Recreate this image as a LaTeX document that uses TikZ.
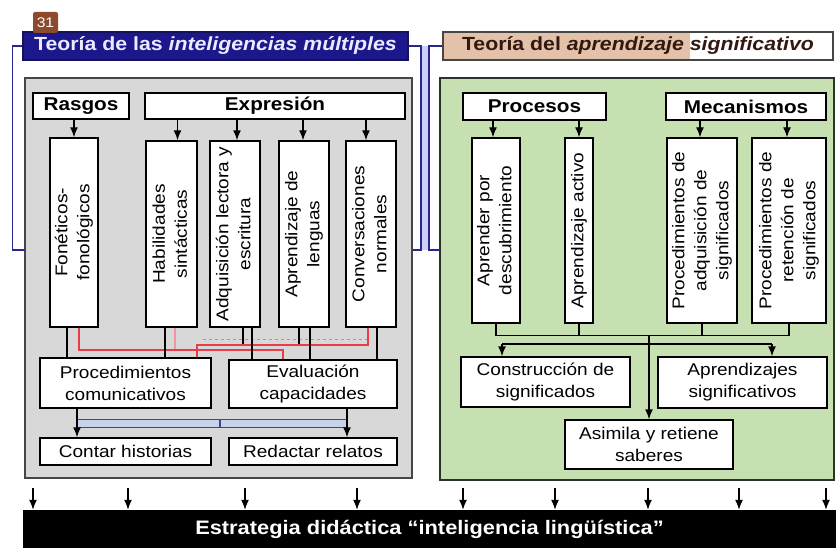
\documentclass[tikz,border=0pt]{standalone}
\usepackage{fontspec}
\setmainfont[FakeStretch=1.12]{Liberation Sans}
\usetikzlibrary{arrows.meta}
\definecolor{navy}{RGB}{28,24,140}
\definecolor{navyedge}{RGB}{20,18,90}
\definecolor{titletext}{RGB}{235,235,255}
\definecolor{peach}{RGB}{228,194,170}
\definecolor{brownt}{RGB}{50,25,15}
\definecolor{grayfill}{RGB}{216,216,216}
\definecolor{grayedge}{RGB}{70,70,70}
\definecolor{greenfill}{RGB}{198,224,178}
\definecolor{greenedge}{RGB}{40,52,40}
\definecolor{badgec}{RGB}{140,75,45}
\definecolor{brk}{RGB}{40,40,140}
\definecolor{lav}{RGB}{205,205,245}
\definecolor{redl}{RGB}{232,60,75}
\definecolor{pinkl}{RGB}{240,150,160}
\definecolor{grnl}{RGB}{110,190,110}
\definecolor{bluel}{RGB}{60,70,140}
\definecolor{bluefill}{RGB}{200,210,235}
\newcommand{\fsn}{\fontsize{17}{22}\selectfont}
\newcommand{\fsh}{\fontsize{18.5}{22}\selectfont\bfseries}
\newcommand{\fst}{\fontsize{19}{22}\selectfont\bfseries}
\newcommand{\fsb}{\fontsize{19.5}{22}\selectfont\bfseries}
\newcommand{\vt}[1]{\rotatebox{90}{\begin{tabular}{@{}c@{}}#1\end{tabular}}}
\begin{document}
\begin{tikzpicture}[x=1pt,y=-1pt,
  box/.style={draw=black, line width=1.4pt, fill=white, inner sep=1pt, align=center, font=\fsn},
  hbox/.style={box, font=\fsh},
  panel/.style={line width=2.4pt, inner sep=0},
  arr/.style={-{Latex[length=10pt,width=8pt]}, line width=1.4pt},
  ln/.style={line width=1.3pt},
  redline/.style={line width=1.6pt, draw=redl},
  brkline/.style={line width=1.4pt, draw=brk},
  title/.style={line width=1.4pt, minimum height=28pt, inner sep=0, font=\fst}]
\useasboundingbox (0,0) rectangle (836,548);

% panels
\node[panel, fill=grayfill, draw=grayedge, minimum width=387pt, minimum height=400pt] (grayp) at (218.5,278) {};
\node[panel, fill=greenfill, draw=greenedge, minimum width=394pt, minimum height=402pt] (greenp) at (637,279) {};

% titles
\node[title, draw=navyedge, fill=navy, text=titletext, minimum width=385pt] (tl) at (215.5,46) {Teoría de las \textit{inteligencias múltiples}};
\fill[peach] (443,32) rectangle (690,60);
\node[title, draw=grayedge, text=brownt, minimum width=390pt] (tr) at (638,46) {Teoría del \textit{aprendizaje significativo}};
\node[fill=badgec, text=white, rounded corners=2pt, minimum width=25pt, minimum height=21pt, inner sep=0, font=\fontsize{14}{16}\selectfont] (badge) at (45.5,22.5) {31};

% brackets
\coordinate (lb) at (25,250);
\draw[brkline] (tl.west) -- ++(-10,0) coordinate (lk) -- (lk |- lb) -- (lb);
\coordinate (m1) at (421,250);
\coordinate (m2) at (429,250);
\fill[lav] (421,46) rectangle (429,250);
\draw[brkline] (tl.east) -| (m1) -- (grayp.east |- m1);
\draw[brkline] (tr.west) -| (m2) -- (greenp.west |- m2);

% left headers
\node[hbox, minimum width=96pt, minimum height=26pt] (rasgos) at (81,106) {Rasgos};
\node[hbox, minimum width=260pt, minimum height=26pt] (expr) at (275,106) {Expresión};

% left vertical boxes
\node[box, minimum width=48pt, minimum height=189pt] (fon) at (74,232.5) {\vt{Fonéticos-\\fonológicos}};
\node[box, minimum width=51pt, minimum height=186pt] (hab) at (171.5,234) {\vt{Habilidades\\sintácticas}};
\node[box, minimum width=50pt, minimum height=186pt] (adq) at (235,234) {\vt{Adquisición lectora y\\escritura}};
\node[box, minimum width=50pt, minimum height=186pt] (apr) at (304,234) {\vt{Aprendizaje de\\lenguas}};
\node[box, minimum width=50pt, minimum height=186pt] (conv) at (371,234) {\vt{Conversaciones\\normales}};

% left lower boxes
\node[box, minimum width=171pt, minimum height=50pt] (proc) at (125.5,383) {Procedimientos\\comunicativos};
\node[box, minimum width=168pt, minimum height=48pt] (eval) at (313,384) {Evaluación\\capacidades};
\node[box, minimum width=171pt, minimum height=27pt] (contar) at (125.5,451.5) {Contar historias};
\node[box, minimum width=168pt, minimum height=27pt] (redac) at (313,451.5) {Redactar relatos};

% header arrows left
\draw[arr] (rasgos.south -| fon.north) -- (fon.north);
\draw[arr] ([xshift=6pt]hab.north |- expr.south) -- ([xshift=6pt]hab.north);
\draw[arr] ([xshift=2pt]adq.north |- expr.south) -- ([xshift=2pt]adq.north);
\draw[arr] ([xshift=-1pt]apr.north |- expr.south) -- ([xshift=-1pt]apr.north);
\draw[arr] ([xshift=-5pt]conv.north |- expr.south) -- ([xshift=-5pt]conv.north);

% coloured links
\draw[draw=grnl, line width=1.2pt, dashed] ([xshift=-3pt]conv.south) ++(0,12) -- ++(-167,0);
\draw[line width=1.5pt, draw=pinkl] ([xshift=3.5pt]hab.south) -- ++(0,22);
\draw[redline] ([xshift=5pt]fon.south) -- ++(0,22) -| ([xshift=-30pt]eval.north);
\draw[redline] ([xshift=-3pt]conv.south) -- ++(0,17) -| ([xshift=71.5pt]proc.north);

% black links
\draw[ln] ([xshift=-7pt]fon.south) -- ([xshift=-7pt]fon.south |- proc.north);
\draw[ln] ([xshift=-6.5pt]hab.south) -- ([xshift=-6.5pt]hab.south |- proc.north);
\draw[ln] ([xshift=8pt]adq.south) -- ++(0,16);
\draw[ln] ([xshift=17pt]adq.south) -- ([xshift=17pt]adq.south |- eval.north);
\draw[ln] ([xshift=-5pt]apr.south) -- ++(0,16);
\draw[ln] ([xshift=6pt]apr.south) -- ([xshift=6pt]apr.south |- eval.north);
\draw[ln] ([xshift=6pt]conv.south) -- ([xshift=6pt]conv.south |- eval.north);

% blue links
\fill[bluefill] ([xshift=-48.5pt]proc.south) ++(0,11) rectangle ++(270,8);
\draw[line width=1.5pt, draw=bluel] ([xshift=-48.5pt]proc.south) ++(0,11) -- ++(270,0);
\draw[line width=1.5pt, draw=bluel] ([xshift=-48.5pt]proc.south) ++(0,19) -- ++(270,0);
\draw[line width=1.3pt, draw=bluel] ([xshift=94.5pt]proc.south) ++(0,11) -- ++(0,8);
\draw[arr] ([xshift=-48.5pt]proc.south) -- ([xshift=-48.5pt]contar.north);
\draw[arr] ([xshift=34pt]eval.south) -- ([xshift=34pt]redac.north);

% right headers
\node[hbox, minimum width=143pt, minimum height=27pt] (procesos) at (534.5,106.5) {Procesos};
\node[hbox, minimum width=160pt, minimum height=27pt] (mecan) at (746,106.5) {Mecanismos};

% right vertical boxes
\node[box, minimum width=48pt, minimum height=185pt] (desc) at (496,230.5) {\vt{Aprender por\\descubrimiento}};
\node[box, minimum width=28pt, minimum height=185pt] (activo) at (579,230.5) {\vt{Aprendizaje activo}};
\node[box, minimum width=70pt, minimum height=185pt] (padq) at (702,230.5) {\vt{Procedimientos de\\adquisición de\\significados}};
\node[box, minimum width=74pt, minimum height=185pt] (pret) at (789,230.5) {\vt{Procedimientos de\\retención de\\significados}};

\draw[arr] ([xshift=-3pt]desc.north |- procesos.south) -- ([xshift=-3pt]desc.north);
\draw[arr] (activo.north |- procesos.south) -- (activo.north);
\draw[arr] ([xshift=-2pt]padq.north |- mecan.south) -- ([xshift=-2pt]padq.north);
\draw[arr] ([xshift=-2pt]pret.north |- mecan.south) -- ([xshift=-2pt]pret.north);

% right lower boxes
\node[box, minimum width=169pt, minimum height=50pt] (constr) at (545.5,382) {Construcción de\\significados};
\node[box, minimum width=169pt, minimum height=51pt] (aprsig) at (742.5,382.5) {Aprendizajes\\significativos};
\node[box, minimum width=168pt, minimum height=49pt] (asim) at (649,444.5) {Asimila y retiene\\saberes};

\draw[ln] (desc.south) -- ++(0,12) -| (pret.south);
\draw[ln] (activo.south) -- ++(0,12);
\draw[ln] (padq.south) -- ++(0,12);
\draw[arr] (asim.north |- desc.south) ++(0,12) -- (asim.north);
\coordinate (cl) at (502,344);
\coordinate (cr) at (772,344);
\draw[ln] (cl) -- (cr);
\draw[arr] (cl) -- (cl |- constr.north);
\draw[arr] (cr) -- (cr |- aprsig.north);

% bottom bar
\node[fill=black, text=white, font=\fsb, minimum width=813pt, minimum height=38pt, inner sep=0] (bar) at (429.5,529) {Estrategia didáctica “inteligencia lingüística”};
\foreach \i/\x in {1/33,2/128,3/245,4/357,5/463,6/555,7/648,8/739,9/826}{
  \coordinate (a\i) at (\x,488);
  \draw[arr] (a\i) -- (a\i |- bar.north);
}
\end{tikzpicture}
\end{document}
